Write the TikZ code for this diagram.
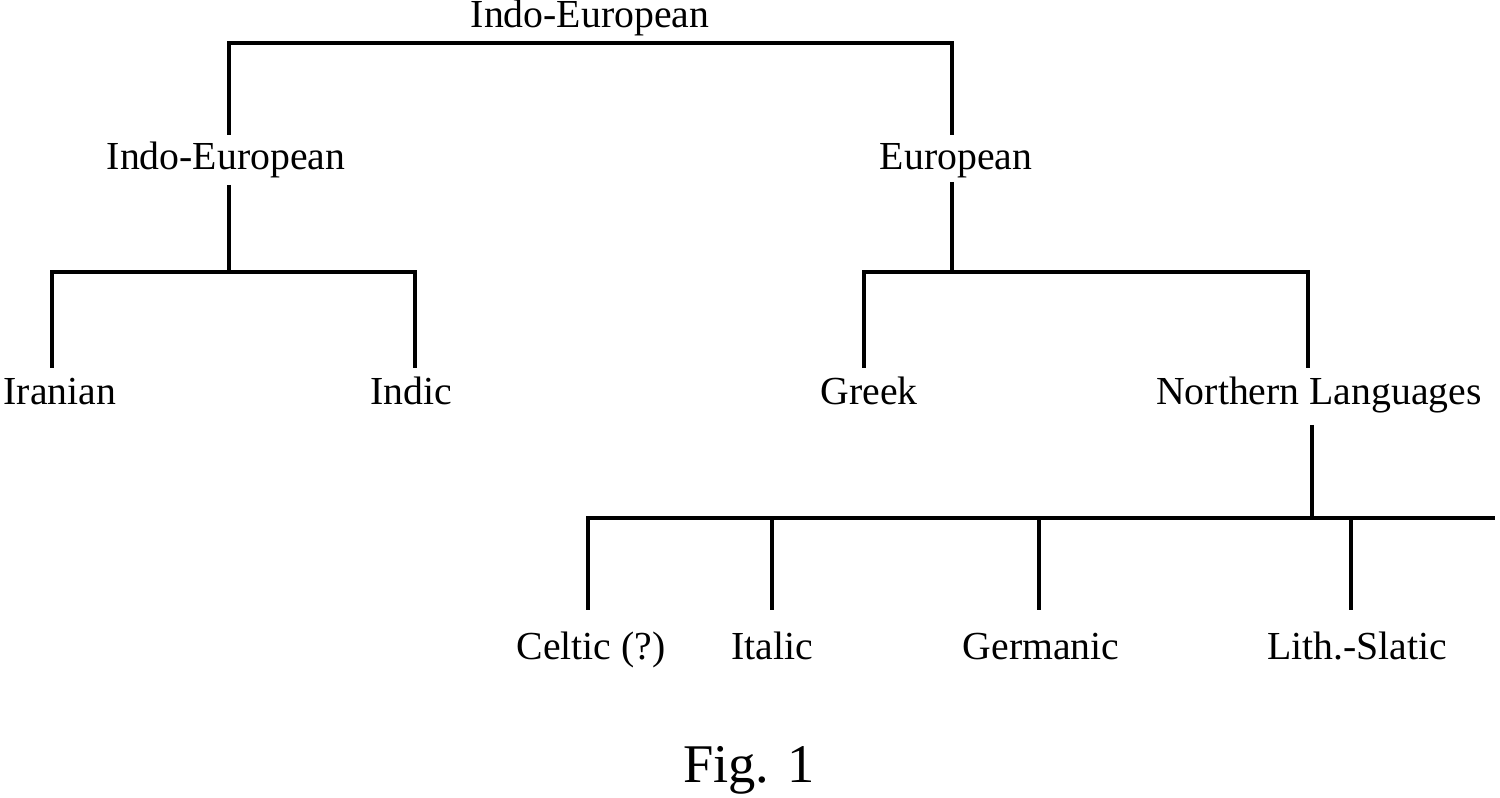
\documentclass[tikz,border=0pt]{standalone}
\usepackage{fontspec}
\setmainfont{Liberation Serif}
\usepackage{tikz}

\tikzset{
  lang/.style={font=\fontsize{11.3}{13}\selectfont, inner sep=0pt, anchor=base},
  branch/.style={line width=1.4pt}
}

\begin{document}
\begin{tikzpicture}[x=0.01cm,y=-0.01cm]
        \useasboundingbox (0,0) rectangle (1500,798);
        %
        \node [lang] (root) at (590,28) {Indo-European};
        \node [lang] (ie) at (226,170) {Indo-European};
        \node [lang] (eu) at (956,170) {European};
        \node [lang] (ir) at (60,405) {Iranian};
        \node [lang] (in) at (411,405) {Indic};
        \node [lang] (gr) at (869,405) {Greek};
        \node [lang] (nl) at (1319,405) {Northern Languages};
        \node [lang] (ce) at (591,660) {Celtic (?)};
        \node [lang] (it) at (772,660) {Italic};
        \node [lang] (ge) at (1041,660) {Germanic};
        \node [lang] (ls) at (1357,660) {Lith.-Slatic};
        \node [font=\fontsize{15.5}{18}\selectfont, inner sep=0pt, anchor=base] (fig) at (749,783) {Fig. 1};
        %
        \coordinate (rootL) at (229,43);
        \coordinate (rootR) at (952,43);
        \coordinate (ieBar) at (229,272);
        \coordinate (euBar) at (952,272);
        \coordinate (nlBar) at (1312,518);
        \coordinate (nlEnd) at (1495,518);
        %
        \draw [branch] (229,135) -- (rootL) -- (rootR) -- (952,135);
        \draw [branch] (229,185) -- (ieBar);
        \draw [branch] (52,368) -- (52,272) -- (415,272) -- (415,368);
        \draw [branch] (952,182) -- (euBar);
        \draw [branch] (864,368) -- (864,272) -- (1308,272) -- (1308,368);
        \draw [branch] (1312,425) -- (nlBar);
        \draw [branch] (588,610) -- (588,518) -- (nlEnd);
        \foreach \x in {772,1039,1351}
          \draw [branch] (\x,518) -- (\x,610);
\end{tikzpicture}
\end{document}
